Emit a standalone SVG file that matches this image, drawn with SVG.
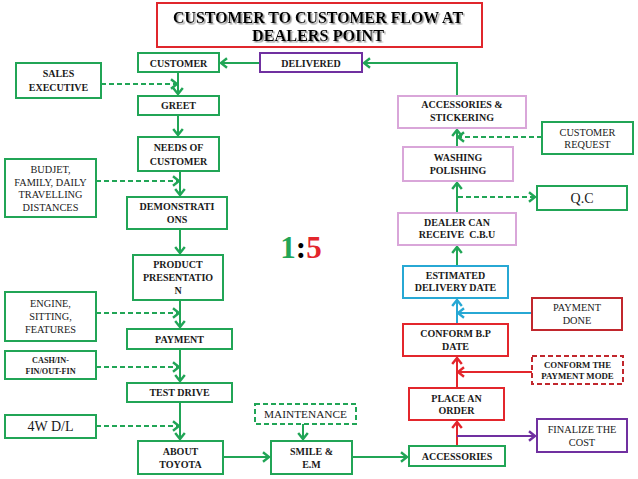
<svg xmlns="http://www.w3.org/2000/svg" width="638" height="479" viewBox="0 0 638 479">
<style>
text{font-family:"Liberation Serif","Times New Roman",serif;text-anchor:middle;fill:#1a1a1a}
.b{font-weight:bold;font-size:10px}
.r{font-size:10.3px}
.box{fill:#fff;stroke-width:2}
.g{stroke:#21a556}
.p{stroke:#7030a0}
.pk{stroke:#d9a6d9}
.bl{stroke:#27a8d4}
.rd{stroke:#e3262c}
.dr{stroke:#c1272d}
.dash{stroke-dasharray:5 3}
.c{fill:none;stroke-width:2}
.cg{stroke:#21a556;marker-end:url(#ag)}
.cr{stroke:#e3262c;marker-end:url(#ar)}
.cb{stroke:#27a8d4;marker-end:url(#ab)}
.cp{stroke:#7030a0;marker-end:url(#ap)}
.cd{stroke-dasharray:5 3}
</style>
<defs>
<filter id="sh" x="-5%" y="-20%" width="110%" height="160%"><feDropShadow dx="1.5" dy="1.5" stdDeviation="0.6" flood-color="#888" flood-opacity="0.9"/></filter>
<marker id="ag" markerUnits="userSpaceOnUse" markerWidth="12" markerHeight="12" refX="6" refY="5" orient="auto" viewBox="0 0 8 10"><path d="M1,1 L6,5 L1,9" fill="none" stroke="#21a556" stroke-width="2"/></marker>
<marker id="ar" markerUnits="userSpaceOnUse" markerWidth="12" markerHeight="12" refX="6" refY="5" orient="auto" viewBox="0 0 8 10"><path d="M1,1 L6,5 L1,9" fill="none" stroke="#e3262c" stroke-width="2"/></marker>
<marker id="ab" markerUnits="userSpaceOnUse" markerWidth="12" markerHeight="12" refX="6" refY="5" orient="auto" viewBox="0 0 8 10"><path d="M1,1 L6,5 L1,9" fill="none" stroke="#27a8d4" stroke-width="2"/></marker>
<marker id="ap" markerUnits="userSpaceOnUse" markerWidth="12" markerHeight="12" refX="6" refY="5" orient="auto" viewBox="0 0 8 10"><path d="M1,1 L6,5 L1,9" fill="none" stroke="#7030a0" stroke-width="2"/></marker>
</defs>
<rect width="638" height="479" fill="#fff"/>
<g id="title">
<rect x="157" y="3" width="325" height="44" fill="#fff" stroke="#e0262c" stroke-width="2"/>
<g style="font-size:17px;font-weight:bold" filter="url(#sh)">
<text x="318" y="23" style="fill:#000" textLength="290" lengthAdjust="spacingAndGlyphs">CUSTOMER TO CUSTOMER FLOW AT</text>
<text x="318" y="41" style="fill:#000" textLength="132" lengthAdjust="spacingAndGlyphs">DEALERS POINT</text>
</g>
</g>
<g id="ratio"><text x="301" y="258" style="font-size:31px;font-weight:bold"><tspan style="fill:#21a556">1</tspan><tspan style="fill:#000">:</tspan><tspan style="fill:#e3262c">5</tspan></text></g>

<g id="connectors">
<path class="c cg" d="M260,63 H221"/>
<path class="c cg" d="M457,96 V63 H364"/>
<path class="c cg" d="M178,72 V94"/>
<path class="c cg" d="M178,115 V135"/>
<path class="c cg" d="M180,171 V195"/>
<path class="c cg" d="M180,229 V253"/>
<path class="c cg" d="M180,300 V327"/>
<path class="c cg" d="M180,349 V381"/>
<path class="c cg" d="M180,402 V439"/>
<path class="c cg" d="M223,457 H269"/>
<path class="c cg" d="M303,424 V439"/>
<path class="c cg" d="M352,457 H407"/>
<path class="c cg cd" d="M101,84 H177"/>
<path class="c cg cd" d="M96,181 H179"/>
<path class="c cg cd" d="M96,313 H179"/>
<path class="c cg cd" d="M96,367 H179"/>
<path class="c cg cd" d="M96,426 H179"/>
<path class="c cg cd" d="M542,137 H458"/>
<path class="c cg cd" d="M458,197 H535"/>
<path class="c cg" d="M457,213 V183"/>
<path class="c cg" d="M457,266 V247"/>
<path class="c cg" d="M457,147 V130"/>
<path class="c cr" d="M457,446 V422"/>
<path class="c cr" d="M457,388 V358"/>
<path class="c cr" d="M532,372 H458"/>
<path class="c cp" d="M457,436 H535"/>
<path class="c cb" d="M457,324 V300"/>
<path class="c cb" d="M532,313 H458"/>
</g>

<g id="customer"><rect class="box g" x="138" y="53" width="81" height="19"/><text class="b" x="178.5" y="66.5">CUSTOMER</text></g>
<g id="delivered"><rect class="box p" x="260" y="53" width="102" height="19"/><text class="b" x="311" y="66.5">DELIVERED</text></g>
<g id="sales"><rect class="box g" x="16" y="63" width="85" height="35"/><text class="b" x="58.5" y="77">SALES</text><text class="b" x="58.5" y="91">EXECUTIVE</text></g>
<g id="greet"><rect class="box g" x="138" y="96" width="81" height="19"/><text class="b" x="178.5" y="109">GREET</text></g>
<g id="needs"><rect class="box g" x="138" y="137" width="81" height="34"/><text class="b" x="178.5" y="151">NEEDS OF</text><text class="b" x="178.5" y="165">CUSTOMER</text></g>
<g id="budjet"><rect class="box g" x="5" y="159" width="91" height="58"/><text class="r" x="50.5" y="173">BUDJET,</text><text class="r" x="50.5" y="185.5">FAMILY, DAILY</text><text class="r" x="50.5" y="198">TRAVELLING</text><text class="r" x="50.5" y="210.5">DISTANCES</text></g>
<g id="demo"><rect class="box g" x="127" y="197" width="100" height="32"/><text class="b" x="177" y="210">DEMONSTRATI</text><text class="b" x="177" y="223">ONS</text></g>
<g id="product"><rect class="box g" x="133" y="255" width="90" height="45"/><text class="b" x="178" y="268">PRODUCT</text><text class="b" x="178" y="281">PRESENTATIO</text><text class="b" x="178" y="294">N</text></g>
<g id="engine"><rect class="box g" x="5" y="292" width="91" height="49"/><text class="r" x="50.5" y="307">ENGINE,</text><text class="r" x="50.5" y="320">SITTING,</text><text class="r" x="50.5" y="333">FEATURES</text></g>
<g id="payment"><rect class="box g" x="127" y="329" width="105" height="20"/><text class="b" x="179.5" y="342.5">PAYMENT</text></g>
<g id="cash"><rect class="box g" x="5" y="351" width="91" height="28"/><text class="b" x="50.5" y="363" style="font-size:8.2px">CASH/IN-</text><text class="b" x="50.5" y="373.5" style="font-size:8.2px">FIN/OUT-FIN</text></g>
<g id="testdrive"><rect class="box g" x="127" y="383" width="105" height="19"/><text class="b" x="179.5" y="396">TEST DRIVE</text></g>
<g id="fourw"><rect class="box g" x="5" y="415" width="91" height="23"/><text x="50.5" y="431" style="font-size:14px">4W D/L</text></g>
<g id="about"><rect class="box g" x="138" y="441" width="85" height="33"/><text class="b" x="180.5" y="454.5">ABOUT</text><text class="b" x="180.5" y="468">TOYOTA</text></g>
<g id="smile"><rect class="box g" x="271" y="441" width="81" height="33"/><text class="b" x="311.5" y="454.5">SMILE &amp;</text><text class="b" x="311.5" y="468">E.M</text></g>
<g id="maintenance"><rect class="box g dash" x="255" y="404" width="101" height="20"/><text x="305.5" y="418" style="font-size:11.3px">MAINTENANCE</text></g>
<g id="accessories"><rect class="box g" x="409" y="446" width="96" height="20"/><text class="b" x="457" y="460">ACCESSORIES</text></g>
<g id="placeorder"><rect class="box rd" x="409" y="388" width="95" height="32"/><text class="b" x="456.5" y="401.5">PLACE AN</text><text class="b" x="456.5" y="414">ORDER</text></g>
<g id="finalize"><rect class="box p" x="537" y="419" width="90" height="33"/><text class="r" x="582" y="433">FINALIZE THE</text><text class="r" x="582" y="445.5">COST</text></g>
<g id="conformmode"><rect class="box dr dash" x="532" y="356" width="91" height="28"/><text class="b" x="577.5" y="367.5" style="font-size:8.8px">CONFORM THE</text><text class="b" x="577.5" y="378.5" style="font-size:8.8px">PAYMENT MODE</text></g>
<g id="conformbp"><rect class="box rd" x="403" y="324" width="105" height="32"/><text class="b" x="455.5" y="337">CONFORM B.P</text><text class="b" x="455.5" y="350">DATE</text></g>
<g id="paymentdone"><rect class="box dr" x="532" y="298" width="90" height="32"/><text class="r" x="577" y="311">PAYMENT</text><text class="r" x="577" y="323.5">DONE</text></g>
<g id="estimated"><rect class="box bl" x="403" y="266" width="105" height="32"/><text class="b" x="455.5" y="278.5">ESTIMATED</text><text class="b" x="455.5" y="291">DELIVERY DATE</text></g>
<g id="dealer"><rect class="box pk" x="398" y="213" width="118" height="32"/><text class="b" x="457" y="225.5">DEALER CAN</text><text class="b" x="457" y="238" xml:space="preserve">RECEIVE  C.B.U</text></g>
<g id="qc"><rect class="box g" x="537" y="186" width="90" height="24"/><text x="582" y="203" style="font-size:14px">Q.C</text></g>
<g id="washing"><rect class="box pk" x="403" y="147" width="110" height="34"/><text class="b" x="458" y="161">WASHING</text><text class="b" x="458" y="173.5">POLISHING</text></g>
<g id="accstick"><rect class="box pk" x="398" y="96" width="128" height="32"/><text class="b" x="462" y="108">ACCESSORIES &amp;</text><text class="b" x="462" y="121">STICKERING</text></g>
<g id="custreq"><rect class="box g" x="542" y="122" width="91" height="32"/><text class="r" x="587.5" y="135.5">CUSTOMER</text><text class="r" x="587.5" y="148">REQUEST</text></g>
</svg>
